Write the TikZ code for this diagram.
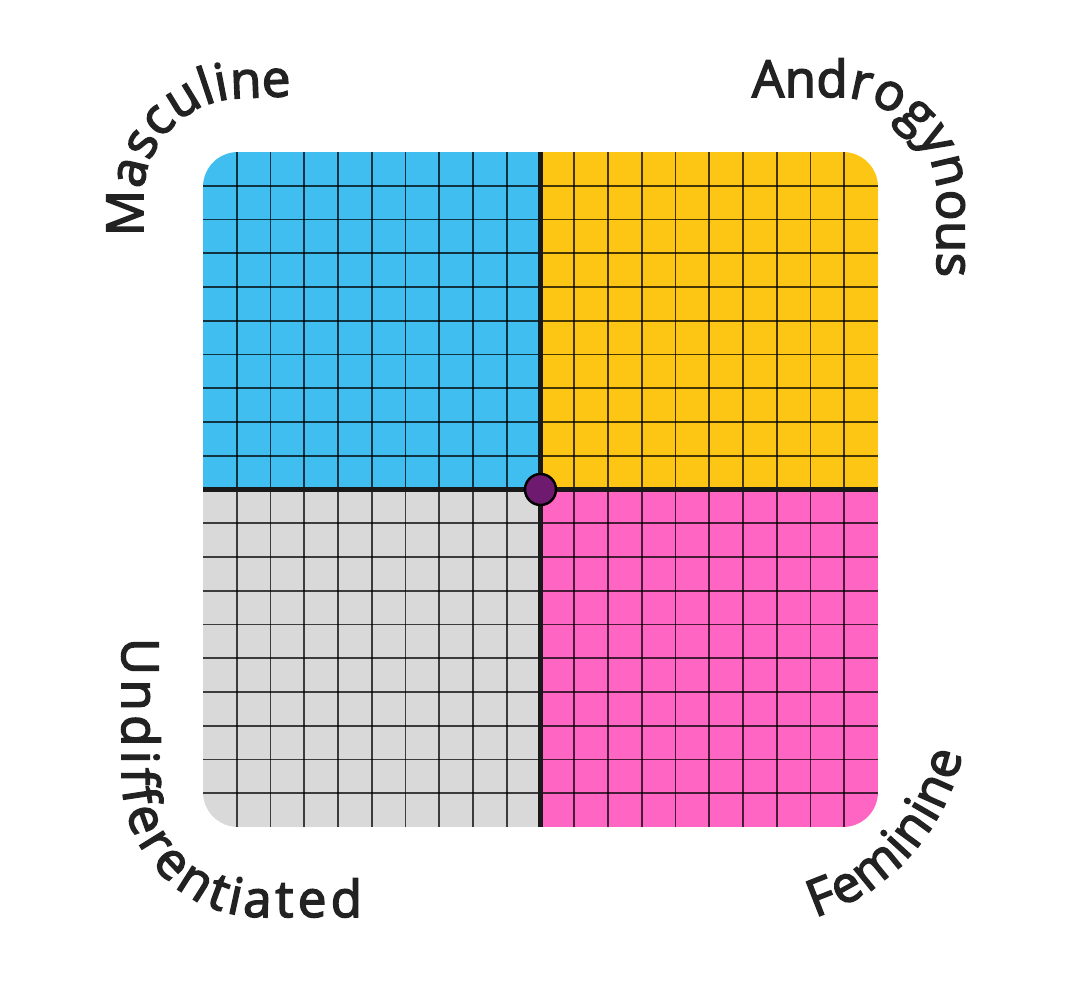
\documentclass[tikz,border=0pt]{standalone}
\usepackage{fontspec}
\setmainfont{Open Sans}
\newfontfamily\labelfont{Open Sans}[FakeBold=3]
\newcommand\lblfont{\labelfont\fontsize{29pt}{31pt}\selectfont}
\usetikzlibrary{decorations.text}
\definecolor{qblue}{HTML}{40BEEF}
\definecolor{qyellow}{HTML}{FEC614}
\definecolor{qgray}{HTML}{D9D9D9}
\definecolor{qpink}{HTML}{FF66C4}
\definecolor{qpurple}{HTML}{6E1A6E}
\definecolor{labelcol}{HTML}{222222}
\tikzset{
  gridline/.style={draw=black, opacity=0.72, line width=1.1pt},
  axisline/.style={draw=black!90, line width=2.5pt},
  fitlabel/.style={decorate, decoration={text along path, text align={fit to path}, text color=labelcol, text={|\lblfont|#1}}},
}
\begin{document}
\begin{tikzpicture}[x=0.02cm, y=-0.02cm]
\path[fill=white, use as bounding box] (0,0) rectangle (1080,985);
% quadrants
\begin{scope}
  \clip[rounded corners=0.7cm] (203,152) rectangle (878,827);
  \fill[qblue]   (203,152)     rectangle (540.5,489.5);
  \fill[qyellow] (540.5,152)   rectangle (878,489.5);
  \fill[qgray]   (203,489.5)   rectangle (540.5,827);
  \fill[qpink]   (540.5,489.5) rectangle (878,827);
  \foreach \i in {1,...,19}{
    \draw[gridline] ({203+\i*33.75},152) -- ({203+\i*33.75},827);
    \draw[gridline] (203,{152+\i*33.75}) -- (878,{152+\i*33.75});
  }
\end{scope}
% axes
\coordinate (top) at (540.5,152);
\coordinate (bottom) at (540.5,827);
\coordinate (left) at (203,489.5);
\coordinate (right) at (878,489.5);
\draw[axisline] (top) -- (bottom);
\draw[axisline] (left) -- (right);
\node[circle, fill=qpurple, draw=black, line width=1.4pt, minimum size=0.62cm, inner sep=0pt] (origin) at (540.5,489.5) {};
% curved labels
\path[fitlabel=Masculine] (143,236) -- (143,198) arc[start angle=180, end angle=270, radius=100] -- (291,96);
\path[fitlabel=Androgynous] (752,97) -- (837,97) arc[start angle=270, end angle=360, radius=100] -- (937,277);
\path[fitlabel=Undifferentiated] (122,638) -- (122,777) arc[start angle=180, end angle=90, radius=140] -- (362,917);
\path[fitlabel=Feminine] ([shift={(72:220)}]747,708) arc[start angle=72, end angle=12, radius=220];
\end{tikzpicture}
\end{document}
